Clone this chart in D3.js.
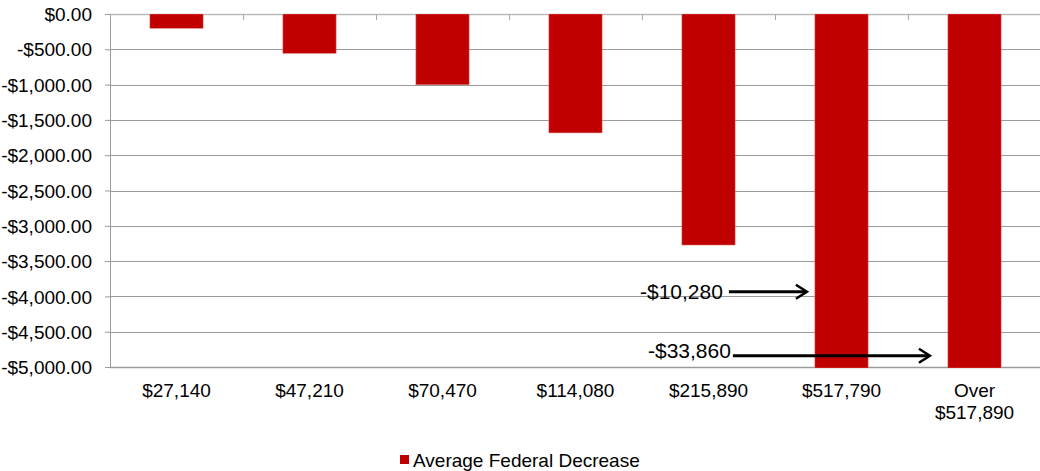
<!DOCTYPE html>
<html>
<head>
<meta charset="utf-8">
<script src="https://cdn.jsdelivr.net/npm/d3@7"></script>
<style>
  body { margin: 0; background: #fff; }
  text { font-family: "Liberation Sans", Arial, sans-serif; fill: #000; }
</style>
</head>
<body>
<div id="chart"></div>
<script>
// data
var categories = ["$27,140", "$47,210", "$70,470", "$114,080", "$215,890", "$517,790", "Over\n$517,890"];
var decrease = [-188, -543, -988, -1670, -3258, -10280, -33860];
var yTicks = [0, -500, -1000, -1500, -2000, -2500, -3000, -3500, -4000, -4500, -5000];
// callouts for the bars that run off the chart
var callouts = [
  { idx: 5, label: "-$10,280", level: -3935 },
  { idx: 6, label: "-$33,860", level: -4840 }
];
var legendLabel = "Average Federal Decrease";

var svgWidth = 1040;
var svgHeight = 471;

var margin = { top: 14, right: -1, bottom: 104, left: 110 };
var width = svgWidth - margin.left - margin.right;
var height = svgHeight - margin.top - margin.bottom;

var svg = d3.select("#chart")
  .append("svg")
  .attr("width", svgWidth)
  .attr("height", svgHeight);

var chartGroup = svg.append("g")
  .attr("transform", `translate(${margin.left}, ${margin.top})`);

var xScale = d3.scaleBand()
  .domain(categories)
  .range([0, width])
  .paddingInner(0.6)
  .paddingOuter(0.3);

var yScale = d3.scaleLinear()
  .domain([0, -5000])
  .range([0, height]);

function money(v) {
  var s = d3.format("$,.2f")(Math.abs(v));
  return v < 0 ? "-" + s : s;
}

// gridlines
chartGroup.selectAll(".grid")
  .data(yTicks)
  .enter()
  .append("line")
  .attr("x1", 0)
  .attr("x2", width)
  .attr("y1", d => Math.round(yScale(d)) + 0.5)
  .attr("y2", d => Math.round(yScale(d)) + 0.5)
  .attr("stroke", d => d === 0 ? "#bbbbbb" : "#9a9a9a")
  .attr("stroke-width", d => (d === 0 || d === -5000) ? 1.6 : 1);

// y axis
var leftAxis = d3.axisLeft(yScale)
  .tickValues(yTicks)
  .tickSize(5)
  .tickPadding(13)
  .tickFormat(money);

var yAxis = chartGroup.append("g")
  .call(leftAxis);
yAxis.select(".domain").attr("stroke", "#9a9a9a");
yAxis.selectAll(".tick line").attr("stroke", "#9a9a9a");
yAxis.selectAll(".tick text")
  .attr("font-size", "19px")
  .attr("fill", "#000")
  .attr("dy", "0.35em")
  .style("font-family", "'Liberation Sans', Arial, sans-serif");

// category ticks at the band edges on the zero line
var step = xScale.step();
chartGroup.selectAll(".xtick")
  .data(d3.range(categories.length + 1))
  .enter()
  .append("line")
  .attr("x1", i => Math.round(i * step) + 0.5)
  .attr("x2", i => Math.round(i * step) + 0.5)
  .attr("y1", 0)
  .attr("y2", 6)
  .attr("stroke", "#aaaaaa");

// bars, clipped to the plot area
chartGroup.append("clipPath")
  .attr("id", "plotClip")
  .append("rect")
  .attr("x", 0)
  .attr("y", 0)
  .attr("width", width)
  .attr("height", height + 1);

chartGroup.append("g")
  .attr("clip-path", "url(#plotClip)")
  .selectAll("rect")
  .data(decrease)
  .enter()
  .append("rect")
  .attr("x", (d, i) => xScale(categories[i]))
  .attr("y", 0)
  .attr("width", xScale.bandwidth())
  .attr("height", d => yScale(Math.max(d, -5000)) + 1)
  .attr("fill", "#c00000")
  .attr("stroke", "#e07070")
  .attr("stroke-width", 0.5);

// category labels
var xLabels = chartGroup.append("g")
  .attr("transform", `translate(0, ${height})`);

xLabels.selectAll("text")
  .data(categories)
  .enter()
  .append("text")
  .attr("x", d => xScale(d) + xScale.bandwidth() / 2)
  .attr("y", 30)
  .attr("text-anchor", "middle")
  .attr("font-size", "19px")
  .each(function(d) {
    var lines = d.split("\n");
    var t = d3.select(this);
    lines.forEach(function(l, k) {
      t.append("tspan")
        .attr("x", xScale(d) + xScale.bandwidth() / 2)
        .attr("dy", k === 0 ? 0 : 22)
        .text(l);
    });
  });

// callout arrows
var arrowGroup = chartGroup.append("g");
callouts.forEach(function(c, k) {
  var y = yScale(c.level);
  var barLeft = xScale(categories[c.idx]);
  var tipX = k === 0 ? barLeft - 8 : barLeft - 18;
  var startX = k === 0 ? barLeft - 86 : barLeft - 215;

  arrowGroup.append("text")
    .attr("x", k === 0 ? startX - 6 : startX - 2)
    .attr("y", k === 0 ? y + 7 : y + 2.5)
    .attr("text-anchor", "end")
    .attr("font-size", "21px")
    .text(c.label);

  arrowGroup.append("line")
    .attr("x1", startX)
    .attr("x2", tipX - 1)
    .attr("y1", y)
    .attr("y2", y)
    .attr("stroke", "#000")
    .attr("stroke-width", 3);

  arrowGroup.append("path")
    .attr("d", `M${tipX - 11},${y - 7} L${tipX},${y} L${tipX - 11},${y + 7}`)
    .attr("fill", "none")
    .attr("stroke", "#000")
    .attr("stroke-width", 2.5);
});

// legend
var legend = svg.append("g")
  .attr("transform", "translate(400, 455)");

legend.append("rect")
  .attr("x", 0)
  .attr("y", 0)
  .attr("width", 9)
  .attr("height", 9)
  .attr("fill", "#c00000");

legend.append("text")
  .attr("x", 13)
  .attr("y", 12)
  .attr("font-size", "19px")
  .text(legendLabel);
</script>
</body>
</html>
